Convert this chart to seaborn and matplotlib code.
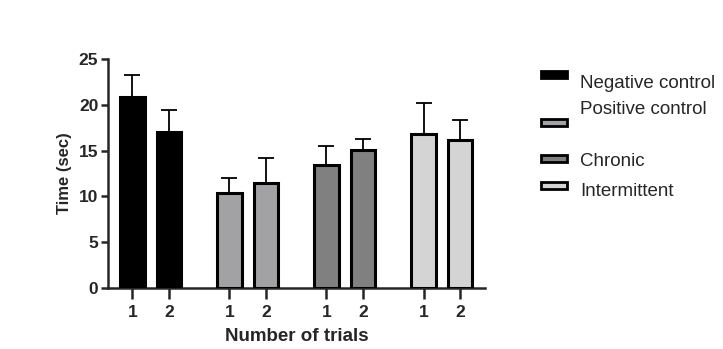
import matplotlib
matplotlib.use("Agg")
import matplotlib.pyplot as plt
import seaborn as sns
import pandas as pd
from matplotlib.patches import Rectangle

groups = ["Negative control", "Positive control", "Chronic", "Intermittent"]
trials = ["1", "2"]
means = [20.8, 17.0, 10.4, 11.5, 13.4, 15.1, 16.8, 16.2]
errors = [2.4, 2.4, 1.6, 2.7, 2.1, 1.2, 3.4, 2.1]
colors = ["#000000", "#a2a1a6", "#808080", "#d4d4d4"]

sns.set_style("ticks")
plt.rcParams['font.family'] = ['Liberation Sans', 'DejaVu Sans']

gap = 0.667
rows = []
for gi, g in enumerate(groups):
    for ti, t in enumerate(trials):
        rows.append({"group": g, "trial": t,
                     "pos": gi * (len(trials) + gap) + ti,
                     "mean": means[gi * 2 + ti], "err": errors[gi * 2 + ti]})
df = pd.DataFrame(rows)

fig = plt.figure(figsize=(7.23, 3.49), dpi=100)
ax = fig.add_axes([108/723, 1-288/349, (485-108)/723, (288-59)/349])

sns.barplot(data=df, x="pos", y="mean", hue="group", palette=colors,
            dodge=False, native_scale=True, width=0.667, errorbar=None,
            edgecolor="black", linewidth=2.2, legend=False, ax=ax, zorder=3)
ax.errorbar(df["pos"], df["mean"], yerr=[[0]*len(df), df["err"]], fmt="none",
            ecolor="black", elinewidth=1.3, capsize=6, capthick=1.3, zorder=2)

ax.set_xlim(df["pos"].min() - 0.67, df["pos"].max() + 0.69)
ax.set_ylim(0, 25)
ax.set_yticks([0, 5, 10, 15, 20, 25])
ax.set_xticks(df["pos"])
ax.set_xticklabels(df["trial"])
for s in ["top", "right"]:
    ax.spines[s].set_visible(False)
for s in ["left", "bottom"]:
    ax.spines[s].set_linewidth(1.8)
ax.tick_params(axis="y", length=5, width=1.8, labelsize=12.5, pad=2)
ax.tick_params(axis="x", length=8, width=1.8, labelsize=12.5, pad=4)
for lab in ax.get_xticklabels() + ax.get_yticklabels():
    lab.set_fontweight("bold")
ax.set_xlabel("Number of trials", fontsize=13.5, fontweight="bold", labelpad=6)
ax.set_ylabel("Time (sec)", fontsize=12, fontweight="bold", labelpad=5)

# legend drawn manually (figure coords)
patch_y = [74, 122, 158, 185]
txt_y = [82, 107, 160, 190]
for c, g, py, ty in zip(colors, groups, patch_y, txt_y):
    fig.patches.append(Rectangle((541/723, 1-(py+3.5)/349), 26/723, 7/349,
                                 transform=fig.transFigure, facecolor=c,
                                 edgecolor="black", linewidth=2))
    fig.text(580/723, 1-ty/349, g, fontsize=13.5, va="center_baseline", ha="left")

fig.savefig("out.png", dpi=100)
